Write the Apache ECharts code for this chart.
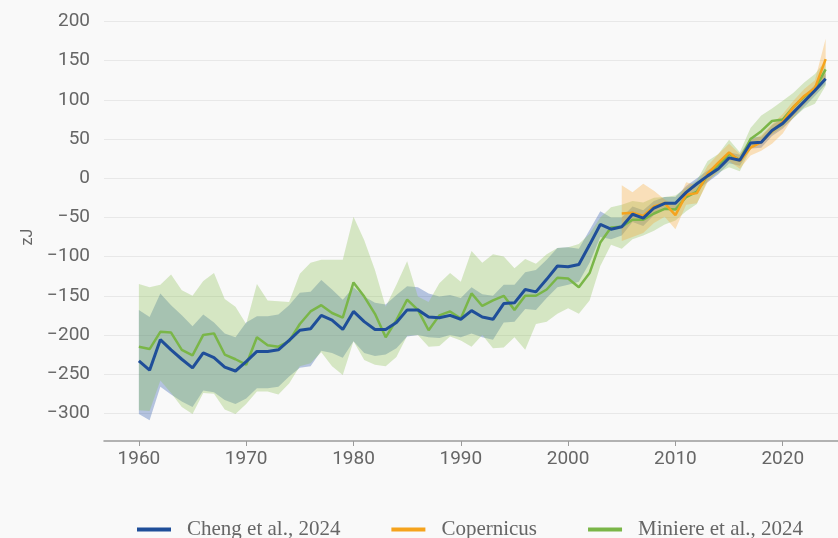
<!DOCTYPE html>
<html>
<head>
<meta charset="utf-8">
<script src="https://cdn.jsdelivr.net/npm/echarts@6/dist/echarts.min.js"></script>
<style>
html, body { margin: 0; padding: 0; background: #f9f9f9; }
#chart { width: 838px; height: 538px; }
</style>
</head>
<body>
<div id="chart"></div>
<script>
// years of the two long records
var years = [1960, 1961, 1962, 1963, 1964, 1965, 1966, 1967, 1968, 1969,
  1970, 1971, 1972, 1973, 1974, 1975, 1976, 1977, 1978, 1979,
  1980, 1981, 1982, 1983, 1984, 1985, 1986, 1987, 1988, 1989,
  1990, 1991, 1992, 1993, 1994, 1995, 1996, 1997, 1998, 1999,
  2000, 2001, 2002, 2003, 2004, 2005, 2006, 2007, 2008, 2009,
  2010, 2011, 2012, 2013, 2014, 2015, 2016, 2017, 2018, 2019,
  2020, 2021, 2022, 2023, 2024];

var cheng = [-233, -245, -206, -219, -231, -242, -223, -229, -241, -246,
  -234, -221, -221, -219, -207, -194, -192, -175, -181, -193,
  -170, -183, -193, -193, -184, -168, -168, -177, -178, -175,
  -180, -169, -177, -180, -160, -159, -142, -145, -129, -112,
  -113, -110, -85, -59, -65, -62, -46, -51, -38, -32,
  -32, -18, -7, 3, 12, 26, 23, 45, 46, 61,
  70, 84, 98, 112, 127];
var chengHi = [-168, -177, -147, -162, -175, -189, -174, -184, -198, -203,
  -184, -176, -176, -174, -162, -146, -145, -130, -142, -155,
  -139, -151, -159, -161, -149, -138, -139, -147, -151, -149,
  -153, -139, -148, -150, -136, -136, -120, -117, -104, -89,
  -88, -90, -66, -42, -50, -50, -36, -41, -29, -24,
  -24, -10, 0, 10, 19, 33, 30, 52, 53, 68,
  77, 91, 105, 119, 134];
var chengLo = [-301, -309, -266, -276, -285, -292, -271, -273, -283, -288,
  -281, -268, -268, -266, -253, -242, -240, -220, -223, -229,
  -208, -223, -227, -225, -217, -202, -200, -203, -204, -200,
  -203, -198, -203, -206, -184, -183, -167, -168, -153, -139,
  -136, -132, -108, -75, -78, -73, -56, -61, -47, -40,
  -40, -26, -15, -5, 5, 19, 16, 38, 39, 54,
  63, 77, 91, 105, 120];

var miniere = [-215, -218, -196, -197, -219, -226, -200, -198, -225, -231,
  -238, -203, -213, -215, -208, -186, -170, -162, -172, -178,
  -133, -151, -173, -203, -181, -155, -168, -194, -175, -170,
  -179, -147, -163, -156, -150, -168, -150, -150, -142, -127,
  -128, -139, -121, -82, -63, -62, -53, -53, -45, -39,
  -40, -24, -17, 4, 17, 31, 23, 50, 60, 73,
  75, 91, 104, 114, 139];
var miniereHi = [-135, -139, -136, -123, -143, -150, -131, -121, -154, -164,
  -186, -135, -156, -157, -158, -122, -108, -104, -104, -104,
  -49, -79, -117, -164, -136, -106, -151, -158, -134, -121,
  -132, -93, -108, -97, -100, -115, -103, -109, -97, -89,
  -88, -84, -71, -50, -37, -34, -29, -31, -25, -24,
  -22, -12, -3, 22, 31, 49, 33, 64, 80, 89,
  99, 109, 122, 133, 150];
var miniereLo = [-296, -297, -258, -274, -292, -301, -274, -275, -295, -301,
  -288, -272, -272, -276, -262, -240, -236, -222, -240, -251,
  -208, -232, -238, -240, -228, -201, -200, -215, -214, -202,
  -207, -215, -200, -217, -216, -203, -219, -186, -183, -173,
  -166, -173, -156, -112, -85, -90, -78, -73, -67, -59,
  -54, -42, -33, -3, 7, 14, 9, 37, 50, 56,
  65, 77, 89, 95, 118];

// Copernicus only starts in 2005
var copYears = [2005, 2006, 2007, 2008, 2009, 2010, 2011, 2012, 2013, 2014,
  2015, 2016, 2017, 2018, 2019, 2020, 2021, 2022, 2023, 2024];
var copernicus = [-45, -44, -48, -36, -32, -47, -21, -19, 6, 20,
  33, 22, 39, 46, 60, 72, 91, 105, 115, 152];
var copHi = [-9, -18, -7, -16, -27, -35, -5, -9, 16, 31,
  44, 31, 48, 55, 69, 82, 99, 114, 125, 178];
var copLo = [-80, -75, -70, -57, -49, -65, -34, -32, -5, 10,
  22, 12, 29, 35, 44, 57, 78, 94, 108, 125];

var decades = [1960, 1970, 1980, 1990, 2000, 2010, 2020];

var BLUE = '#1f4e99', ORANGE = '#f5a31d', GREEN = '#7ab648';
var tickFont = 'Roboto, "Noto Sans", sans-serif';
var legendFont = '"Liberation Serif", serif';

var chart = echarts.init(document.getElementById('chart'));

function pairs(xs, ys) {
  return xs.map(function (x, i) { return [x, ys[i]]; });
}

// uncertainty band: one polygon through the axis scales
function band(name, xs, lo, hi, fill, z) {
  return {
    type: 'custom',
    name: name,
    z: z,
    silent: true,
    data: xs.map(function (x, i) { return [x, lo[i], hi[i]]; }),
    encode: { x: 0, y: [1, 2] },
    renderItem: function (params, api) {
      if (params.dataIndex !== 0) return null;
      var pts = [];
      for (var i = 0; i < xs.length; i++) pts.push(api.coord([xs[i], hi[i]]));
      for (var j = xs.length - 1; j >= 0; j--) pts.push(api.coord([xs[j], lo[j]]));
      return { type: 'polygon', shape: { points: pts }, style: { fill: fill } };
    }
  };
}

function line(name, xs, ys, color, width, z) {
  return {
    type: 'line',
    name: name,
    z: z,
    color: color,
    data: pairs(xs, ys),
    symbol: 'none',
    lineStyle: { color: color, width: width },
    emphasis: { disabled: true }
  };
}

chart.setOption({
  animation: false,
  backgroundColor: '#f9f9f9',
  grid: { left: 104, right: 0, top: 21.5, bottom: 85.5 },
  legend: {
    data: ['Cheng et al., 2024', 'Copernicus', 'Miniere et al., 2024'],
    left: 137,
    top: 519,
    padding: 0,
    icon: 'rect',
    itemWidth: 34,
    itemHeight: 4,
    itemGap: 51,
    textStyle: { color: '#666', fontSize: 21, fontFamily: legendFont, padding: [0, 0, 0, 11] }
  },
  xAxis: {
    type: 'value',
    min: 1956.75,
    max: 2025.15,
    offset: -11.5,
    axisLine: { onZero: false, lineStyle: { color: '#9a9a9a', width: 1.5 } },
    axisTick: { customValues: decades, length: 5, lineStyle: { color: '#9a9a9a' } },
    axisLabel: {
      customValues: decades,
      color: '#666',
      fontSize: 19,
      fontFamily: tickFont,
      margin: 9,
      formatter: function (v) { return String(v); }
    },
    splitLine: { show: false }
  },
  yAxis: {
    type: 'value',
    min: -350,
    max: 200,
    interval: 50,
    name: 'zJ',
    nameLocation: 'middle',
    nameGap: 68,
    nameTextStyle: { color: '#666', fontSize: 16, fontFamily: tickFont },
    axisLine: { show: false },
    axisTick: { show: false },
    axisLabel: {
      showMinLabel: false,
      color: '#666',
      fontSize: 19,
      fontFamily: tickFont,
      margin: 14,
      formatter: function (v) { return String(v).replace('-', '\u2212'); }
    },
    splitLine: { showMinLine: false, lineStyle: { color: '#e8e8e8', width: 1 } }
  },
  series: [
    band('Cheng band', years, chengLo, chengHi, 'rgba(40,85,170,0.33)', 1),
    band('Miniere band', years, miniereLo, miniereHi, 'rgba(139,192,86,0.33)', 2),
    band('Copernicus band', copYears, copLo, copHi, 'rgba(247,163,37,0.3)', 3),
    line('Miniere et al., 2024', years, miniere, GREEN, 2.5, 4),
    line('Copernicus', copYears, copernicus, ORANGE, 2.5, 5),
    line('Cheng et al., 2024', years, cheng, BLUE, 3, 6)
  ]
});
</script>
</body>
</html>
